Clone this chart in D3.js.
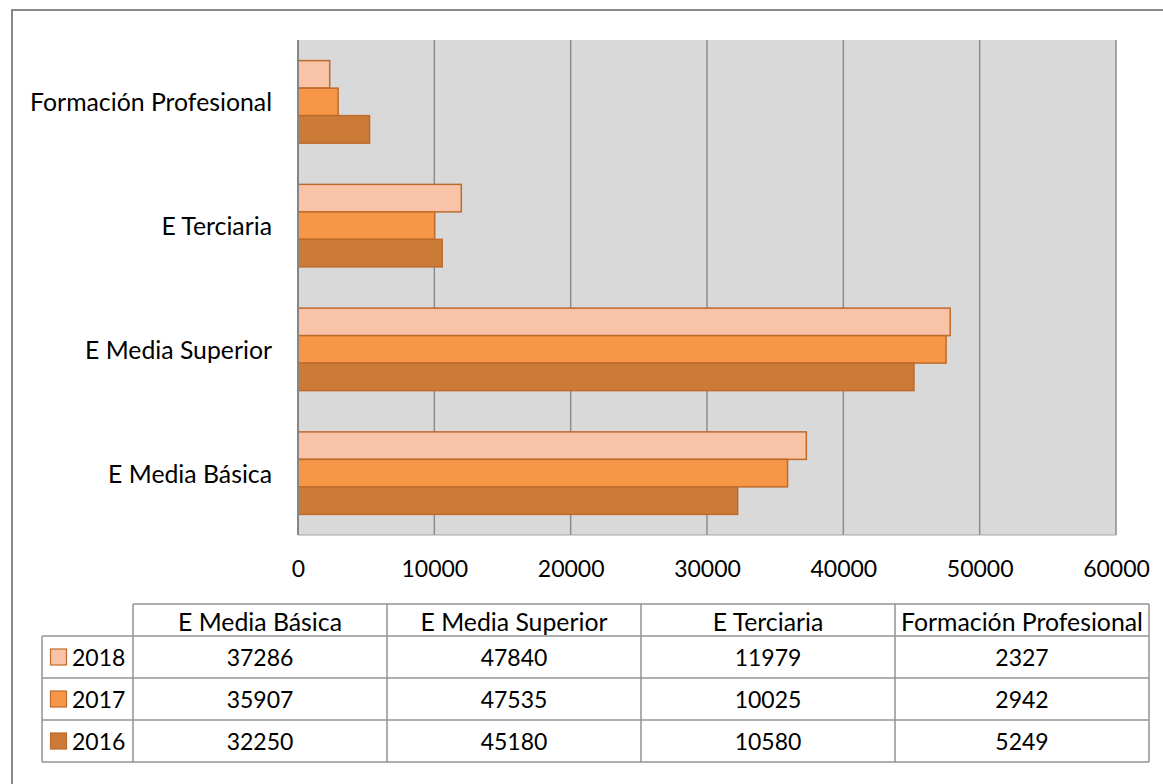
<!DOCTYPE html>
<html><head><meta charset="utf-8">
<script src="https://cdn.jsdelivr.net/npm/d3@7"></script>
<style>body{margin:0;background:#fff;} svg{display:block;}</style>
</head><body>
<svg id="chart" width="1163" height="784"></svg>
<script>
const categories = ["E Media Básica", "E Media Superior", "E Terciaria", "Formación Profesional"];
const years = ["2018", "2017", "2016"];
const values2018 = [37286, 47840, 11979, 2327];
const values2017 = [35907, 47535, 10025, 2942];
const values2016 = [32250, 45180, 10580, 5249];
const tickValues = [0, 10000, 20000, 30000, 40000, 50000, 60000];
const colors = {"2018": "#F9C3A8", "2017": "#F79646", "2016": "#CB7A37"};
const seriesValues = {"2018": values2018, "2017": values2017, "2016": values2016};

const FONT = "Lato, 'Open Sans', sans-serif";
const FS = 23;      // numbers
const FS_TXT = 24.8; // word labels
const svg = d3.select("#chart");

// outer border
svg.append("rect").attr("x", 12).attr("y", 10).attr("width", 1170).attr("height", 790)
  .attr("fill", "#fff").attr("stroke", "#888").attr("stroke-width", 2);

const plot = {left: 298, right: 1116, top: 40, bottom: 535};
const x = d3.scaleLinear().domain([0, 60000]).range([plot.left, plot.right]);
const y = d3.scaleBand().domain(categories.slice().reverse())
  .range([plot.top, plot.bottom]).paddingInner(1/3).paddingOuter(1/6);
const yInner = d3.scaleBand().domain(years).range([0, y.bandwidth()]);

svg.append("rect").attr("x", plot.left).attr("y", plot.top)
  .attr("width", plot.right - plot.left).attr("height", plot.bottom - plot.top)
  .attr("fill", "#D9D9D9");

// gridlines
svg.append("g").selectAll("line").data(tickValues.slice(1)).join("line")
  .attr("x1", d => x(d)).attr("x2", d => x(d))
  .attr("y1", plot.top).attr("y2", plot.bottom)
  .attr("stroke", "#8C8C8C").attr("stroke-width", 1.5);
// bottom edge
svg.append("line").attr("x1", plot.left).attr("x2", plot.right)
  .attr("y1", plot.bottom).attr("y2", plot.bottom)
  .attr("stroke", "#A6A6A6").attr("stroke-width", 1.2);

// bars
const rows = [];
categories.forEach((c, i) => years.forEach(yr => rows.push({cat: c, year: yr, value: seriesValues[yr][i]})));
svg.append("g").selectAll("rect").data(rows).join("rect")
  .attr("x", x(0))
  .attr("y", d => y(d.cat) + yInner(d.year))
  .attr("width", d => x(d.value) - x(0))
  .attr("height", yInner.bandwidth())
  .attr("fill", d => colors[d.year])
  .attr("stroke", "#BE6A2B").attr("stroke-width", 1.5);

// left axis line
svg.append("line").attr("x1", plot.left).attr("x2", plot.left)
  .attr("y1", plot.top).attr("y2", plot.bottom)
  .attr("stroke", "#868686").attr("stroke-width", 2);

// category labels
svg.append("g").selectAll("text").data(categories).join("text")
  .attr("x", 272).attr("y", d => y(d) + y.bandwidth() / 2)
  .attr("text-anchor", "end").attr("dominant-baseline", "central")
  .attr("font-family", FONT).attr("font-size", FS_TXT).attr("fill", "#000")
  .text(d => d);

// x axis labels
const xAxis = d3.axisBottom(x).tickValues(tickValues).tickSize(0).tickPadding(0).tickFormat(d3.format("d"));
const gx = svg.append("g").attr("transform", `translate(0, 568)`).call(xAxis);
gx.select(".domain").remove();
gx.selectAll("text").attr("font-family", FONT).attr("font-size", FS).attr("fill", "#000")
  .attr("dy", null).attr("dominant-baseline", "central").attr("y", 0);

// data table
const colEdges = [133, 387, 641, 895, 1149];
const legendLeft = 42;
const headerTop = 604, headerBottom = 636, rowH = 42;
const tableRows = years;
const tg = svg.append("g");
const lineStyle = sel => sel.attr("stroke", "#939393").attr("stroke-width", 1.5).attr("fill", "none");

tg.append("line").call(lineStyle).attr("x1", colEdges[0]).attr("x2", colEdges[4]).attr("y1", headerTop).attr("y2", headerTop);
tableRows.forEach((r, i) => {
  tg.append("line").call(lineStyle).attr("x1", legendLeft).attr("x2", colEdges[4])
    .attr("y1", headerBottom + i * rowH).attr("y2", headerBottom + i * rowH);
});
const tableBottom = headerBottom + tableRows.length * rowH;
tg.append("line").call(lineStyle).attr("x1", legendLeft).attr("x2", colEdges[4]).attr("y1", tableBottom).attr("y2", tableBottom);
colEdges.forEach(cx => {
  tg.append("line").call(lineStyle).attr("x1", cx).attr("x2", cx).attr("y1", headerTop).attr("y2", tableBottom);
});
tg.append("line").call(lineStyle).attr("x1", legendLeft).attr("x2", legendLeft).attr("y1", headerBottom).attr("y2", tableBottom);

// header text
tg.selectAll("text.hdr").data(categories).join("text").attr("class", "hdr")
  .attr("x", (d, i) => (colEdges[i] + colEdges[i + 1]) / 2)
  .attr("y", (headerTop + headerBottom) / 2 + 1)
  .attr("text-anchor", "middle").attr("dominant-baseline", "central")
  .attr("font-family", FONT).attr("font-size", FS_TXT).text(d => d);

// rows
tableRows.forEach((yr, ri) => {
  const cy = headerBottom + ri * rowH + rowH / 2;
  tg.append("rect").attr("x", 50.5).attr("y", cy - 8).attr("width", 16).attr("height", 16)
    .attr("fill", colors[yr]).attr("stroke", "#BE6A2B").attr("stroke-width", 1.2);
  tg.append("text").attr("x", 72).attr("y", cy).attr("dominant-baseline", "central")
    .attr("font-family", FONT).attr("font-size", FS).text(yr);
  tg.selectAll(null).data(seriesValues[yr]).join("text")
    .attr("x", (d, i) => (colEdges[i] + colEdges[i + 1]) / 2)
    .attr("y", cy).attr("text-anchor", "middle").attr("dominant-baseline", "central")
    .attr("font-family", FONT).attr("font-size", FS).text(d => d);
});
</script>
</body></html>
